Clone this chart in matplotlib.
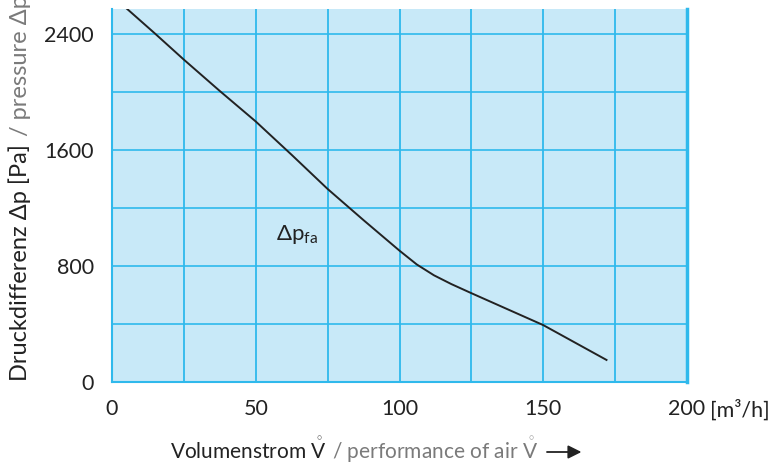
import numpy as np
import matplotlib.pyplot as plt

plt.rcParams['font.family'] = ['Lato', 'DejaVu Sans']
plt.rcParams['mathtext.fontset'] = 'custom'
plt.rcParams['mathtext.rm'] = 'Lato'
plt.rcParams['mathtext.it'] = 'Lato'

# curve
flow = [5, 15, 25, 37.5, 50, 62.5, 75, 87.5, 100, 106, 112, 118, 125, 137.5, 150, 172]
pressure = [2575, 2400, 2221, 2005, 1795, 1565, 1330, 1115, 905, 810, 735, 675, 612, 502, 392, 152]

x_ticks = [0, 50, 100, 150, 200]
y_ticks = [0, 800, 1600, 2400]

grid_col = '#2fb9ec'
fill_col = '#c8e9f8'
txt_col = '#222222'
grey_col = '#7a7a7a'

W, H = 781, 466
fig = plt.figure(figsize=(W / 100, H / 100), dpi=100)
ax = fig.add_axes([112 / W, 1 - 382 / H, (687 - 112) / W, (382 - 9) / H])
ax.set_facecolor(fill_col)
ax.set_xlim(0, 200)
ax.set_ylim(0, 2570)

for xv in np.arange(25, 200, 25):
    ax.axvline(xv, color=grid_col, lw=1.3, zorder=1)
for yv in np.arange(400, 2570, 400):
    ax.axhline(yv, color=grid_col, lw=1.2, zorder=1)

ax.plot(flow, pressure, color=txt_col, lw=1.4, zorder=3)

ax.set_xticks(x_ticks)
ax.set_yticks(y_ticks)
ax.tick_params(length=0, labelsize=15.5, colors=txt_col)
ax.tick_params(axis='x', pad=12)
ax.tick_params(axis='y', pad=13)

ax.spines['top'].set_visible(False)
for s in ['left', 'bottom']:
    ax.spines[s].set_color(grid_col)
    ax.spines[s].set_linewidth(1.5)
ax.spines['right'].set_color(grid_col)
ax.spines['right'].set_linewidth(2.5)

ax.text(57, 980, r'$\Delta\mathrm{p}_{\mathrm{fa}}$', fontsize=16, color=txt_col)

fig.text(710 / W, 1 - 410 / H, '[m³/h]', fontsize=15.5, color=txt_col,
         ha='left', va='center')

fig.canvas.draw()
rend = fig.canvas.get_renderer()

# y label: black part then grey part
ysize = 17
ylab = fig.text(20 / W, 1 - 381 / H, 'Druckdifferenz Δp [Pa]', rotation=90,
                fontsize=ysize, color=txt_col, ha='center', va='bottom')
top = ylab.get_window_extent(rend).y1
fig.text(20 / W, (top + 8) / H, '/ pressure Δp [Pa]', rotation=90, fontsize=ysize,
         color=grey_col, ha='center', va='bottom')

# x label
base = 1 - 459 / H
xlab = fig.text(170 / W, base, r'Volumenstrom $\mathring{\mathrm{V}}$', fontsize=15,
                color=txt_col, ha='left', va='baseline')
right = xlab.get_window_extent(rend).x1
xlab2 = fig.text((right + 5) / W, base, r'/ performance of air $\mathring{\mathrm{V}}$',
                 fontsize=15, color=grey_col, ha='left', va='baseline')
right2 = xlab2.get_window_extent(rend).x1
ax.annotate('', xy=((right2 + 46) / W, 1 - 452 / H), xycoords='figure fraction',
            xytext=((right2 + 6) / W, 1 - 452 / H), textcoords='figure fraction',
            arrowprops=dict(arrowstyle='-|>', color=txt_col, lw=1.3,
                            mutation_scale=20))

fig.savefig('out.png', dpi=100)
